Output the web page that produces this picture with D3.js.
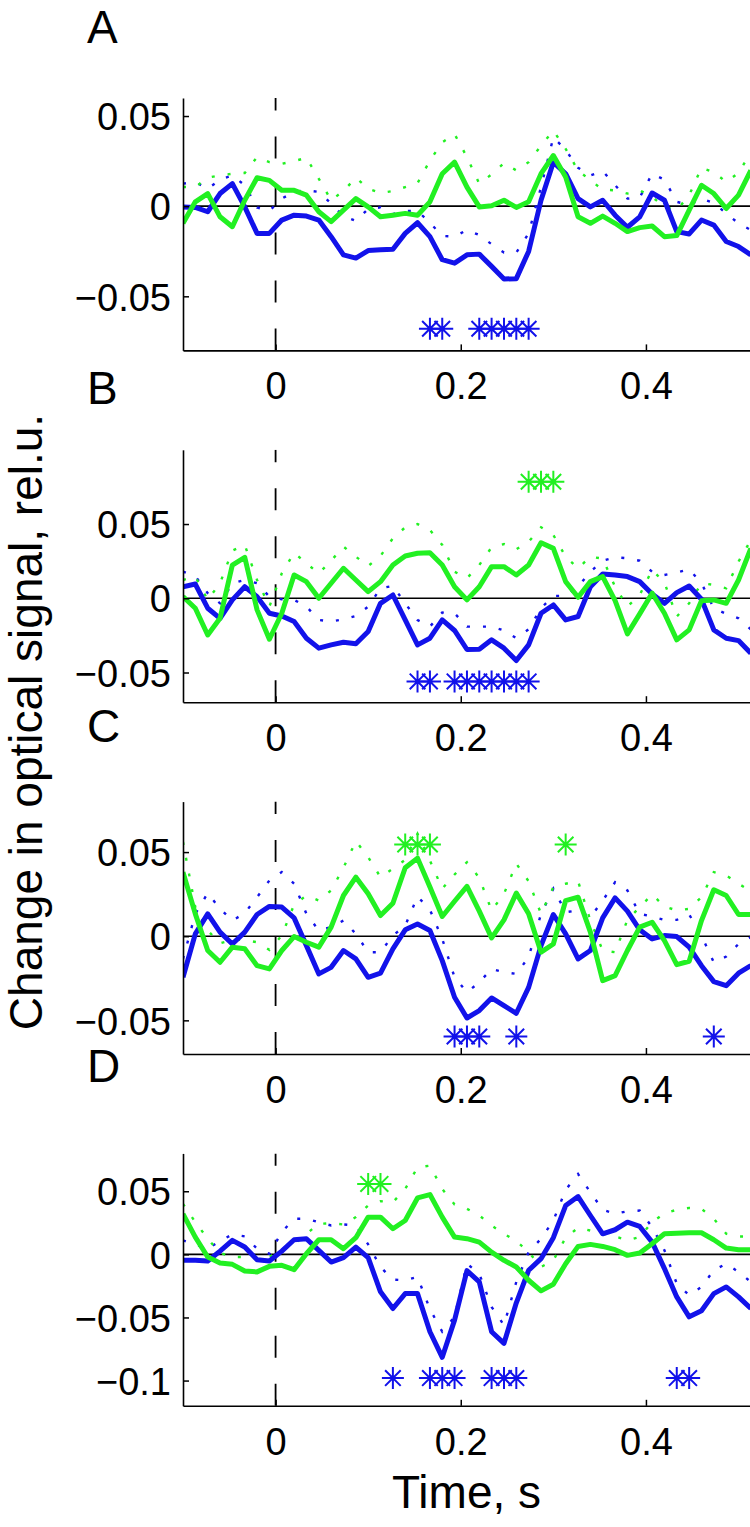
<!DOCTYPE html>
<html><head><meta charset="utf-8">
<script src="https://cdn.jsdelivr.net/npm/d3@7"></script>
<style>
body{margin:0;background:#fff}
svg{display:block}
text{font-family:"Liberation Sans",Arial,Helvetica,sans-serif;fill:#000}
</style>
</head><body>
<svg id="chart" width="750" height="1527"></svg>
<script>
// ---- data ----
const time = [-0.1,-0.0867,-0.0733,-0.06,-0.0467,-0.0333,-0.02,-0.0067,0.0067,0.02,0.0333,0.0467,0.06,0.0733,0.0867,0.1,0.1133,0.1267,0.14,0.1533,0.1667,0.18,0.1933,0.2067,0.22,0.2333,0.2467,0.26,0.2733,0.2867,0.3,0.3133,0.3267,0.34,0.3533,0.3667,0.38,0.3933,0.4067,0.42,0.4333,0.4467,0.46,0.4733,0.4867,0.5,0.5133];
const xTicks = [0, 0.2, 0.4];
const xTickLabels = ["0", "0.2", "0.4"];
const panelLetters = ["A", "B", "C", "D"];

const yDomainA = [-0.08, 0.06], yDomainB = [-0.07, 0.1], yDomainC = [-0.07, 0.08], yDomainD = [-0.12, 0.08];
const yTicksA = [-0.05, 0, 0.05], yTicksB = [-0.05, 0, 0.05], yTicksC = [-0.05, 0, 0.05], yTicksD = [-0.1, -0.05, 0, 0.05];

const blueMeanA = [-0.0004,-0.0007,-0.0031,0.0070,0.0125,-0.0004,-0.0151,-0.0151,-0.0077,-0.0050,-0.0055,-0.0077,-0.0169,-0.0270,-0.0288,-0.0246,-0.0242,-0.0239,-0.0151,-0.0092,-0.0169,-0.0297,-0.0316,-0.0270,-0.0266,-0.0334,-0.0404,-0.0402,-0.0251,0.0033,0.0244,0.0180,0.0042,-0.0004,0.0033,-0.0050,-0.0117,-0.0059,0.0073,0.0033,-0.0141,-0.0154,-0.0077,-0.0105,-0.0196,-0.0224,-0.0270];
const blueUpperA = [0.0125,0.0134,0.0097,0.0147,0.0171,0.0116,-0.0007,-0.0026,0.0042,0.0079,0.0088,0.0079,0.0015,-0.0055,-0.0081,-0.0015,-0.0007,-0.0044,-0.0026,-0.0026,-0.0092,-0.0165,-0.0169,-0.0132,-0.0160,-0.0211,-0.0257,-0.0257,-0.0151,0.0106,0.0382,0.0312,0.0213,0.0171,0.0195,0.0116,0.0042,0.0048,0.0180,0.0147,0.0024,0.0006,0.0042,0.0018,-0.0040,-0.0095,-0.0132];
const greenMeanA = [-0.0095,0.0024,0.0070,-0.0059,-0.0114,0.0033,0.0158,0.0143,0.0088,0.0088,0.0061,-0.0031,-0.0086,-0.0022,0.0042,-0.0004,-0.0059,-0.0050,-0.0040,-0.0050,0.0024,0.0180,0.0244,0.0106,-0.0004,0.0002,0.0033,-0.0007,0.0024,0.0180,0.0281,0.0162,-0.0059,-0.0095,-0.0055,-0.0095,-0.0141,-0.0119,-0.0110,-0.0169,-0.0163,-0.0022,0.0116,0.0070,-0.0013,0.0061,0.0198];
const greenUpperA = [0.0106,0.0106,0.0158,0.0171,0.0180,0.0184,0.0272,0.0244,0.0235,0.0250,0.0268,0.0152,0.0033,0.0084,0.0158,0.0097,0.0073,0.0084,0.0106,0.0128,0.0253,0.0354,0.0400,0.0272,0.0125,0.0176,0.0239,0.0198,0.0244,0.0336,0.0419,0.0318,0.0198,0.0143,0.0092,0.0088,0.0070,0.0088,0.0051,-0.0004,-0.0022,0.0061,0.0213,0.0189,0.0134,0.0184,0.0299];

const blueMeanB = [0.0078,0.0096,-0.0067,-0.0135,-0.0011,0.0078,0.0011,-0.0101,-0.0119,-0.0157,-0.0269,-0.0336,-0.0314,-0.0296,-0.0307,-0.0224,-0.0034,0.0022,-0.0146,-0.0314,-0.0269,-0.0146,-0.0217,-0.0345,-0.0343,-0.0280,-0.0336,-0.0419,-0.0314,-0.0101,-0.0045,-0.0146,-0.0123,0.0078,0.0164,0.0157,0.0146,0.0112,0.0029,-0.0034,0.0038,0.0083,-0.0007,-0.0213,-0.0269,-0.0285,-0.0370];
const blueUpperB = [0.0179,0.0150,0.0034,-0.0034,0.0101,0.0123,0.0101,0.0011,-0.0007,-0.0011,-0.0056,-0.0146,-0.0157,-0.0141,-0.0119,-0.0056,0.0067,0.0083,-0.0034,-0.0146,-0.0191,-0.0096,-0.0101,-0.0191,-0.0191,-0.0191,-0.0217,-0.0269,-0.0209,-0.0067,0.0016,0.0016,0.0078,0.0179,0.0253,0.0276,0.0269,0.0253,0.0179,0.0157,0.0173,0.0195,0.0101,-0.0067,-0.0105,-0.0135,-0.0209];
const greenMeanB = [0.0011,-0.0067,-0.0247,-0.0135,0.0224,0.0276,-0.0078,-0.0276,-0.0101,0.0157,0.0112,0,0.0101,0.0202,0.0123,0.0045,0.0112,0.0224,0.0285,0.0303,0.0307,0.0224,0.0078,-0.0011,0.0078,0.0213,0.0213,0.0157,0.0224,0.0374,0.0336,0.0112,0.0007,0.0112,0.0146,-0.0016,-0.0240,-0.0105,0.0034,-0.0101,-0.0280,-0.0213,-0.0016,-0.0011,-0.0034,0.0123,0.0336];
const greenUpperB = [0.0123,0.0146,-0.0011,0.0101,0.0321,0.0359,0.0123,-0.0056,0.0168,0.0307,0.0235,0.0168,0.0253,0.0348,0.0280,0.0217,0.0285,0.0404,0.0478,0.0500,0.0460,0.0359,0.0179,0.0135,0.0224,0.0343,0.0365,0.0330,0.0381,0.0478,0.0426,0.0280,0.0202,0.0280,0.0267,0.0078,-0.0056,0.0022,0.0191,0.0105,-0.0123,-0.0034,0.0101,0.0090,0.0067,0.0247,0.0392];

const blueMeanC = [-0.0244,0.0014,0.0133,0.0024,-0.0046,0.0024,0.0129,0.0177,0.0173,0.0109,-0.0056,-0.0224,-0.0185,-0.0085,-0.0135,-0.0244,-0.0220,-0.0075,0.0038,0.0073,0.0034,-0.0145,-0.0363,-0.0486,-0.0442,-0.0367,-0.0413,-0.0458,-0.0304,-0.0056,0.0129,0.0014,-0.0135,-0.0085,0.0109,0.0228,0.0149,0.0038,-0.0016,0.0004,-0.0002,-0.0065,-0.0175,-0.0270,-0.0294,-0.0220,-0.0175];
const blueUpperC = [-0.0135,0.0133,0.0256,0.0163,0.0093,0.0137,0.0232,0.0331,0.0381,0.0312,0.0133,0.0034,0.0054,0.0093,0.0014,-0.0095,-0.0095,0.0004,0.0063,0.0236,0.0157,-0.0016,-0.0244,-0.0333,-0.0274,-0.0194,-0.0214,-0.0224,-0.0125,0.0133,0.0282,0.0143,0.0153,0.0113,0.0212,0.0321,0.0272,0.0133,0.0117,0.0097,0.0097,0.0129,0.0004,-0.0155,-0.0121,-0.0046,-0.0006];
const greenMeanC = [0.0381,0.0133,-0.0085,-0.0155,-0.0065,-0.0075,-0.0175,-0.0194,-0.0085,-0.0002,-0.0036,-0.0065,0.0054,0.0242,0.0351,0.0252,0.0123,0.0196,0.0407,0.0464,0.0292,0.0117,0.0208,0.0296,0.0149,-0.0010,0.0097,0.0256,0.0133,-0.0095,-0.0046,0.0212,0.0232,0.0024,-0.0264,-0.0234,-0.0085,0.0054,0.0083,-0.0026,-0.0169,-0.0149,0.0093,0.0276,0.0242,0.0129,0.0129];
const greenUpperC = [0.0560,0.0173,0.0034,-0.0042,-0.0022,-0.0022,-0.0036,-0.0081,0.0004,0.0188,0.0242,0.0212,0.0272,0.0407,0.0565,0.0470,0.0351,0.0401,0.0454,0.0609,0.0450,0.0282,0.0367,0.0440,0.0347,0.0153,0.0252,0.0431,0.0327,0.0133,0.0292,0.0312,0.0327,0.0093,-0.0085,-0.0095,0.0097,0.0173,0.0248,0.0177,0.0153,0.0163,0.0232,0.0381,0.0361,0.0312,0.0268];

const blueMeanD = [-0.0047,-0.0047,-0.0053,0.0026,0.0111,0.0058,-0.0042,-0.0053,0.0026,0.0116,0.0124,0.0032,-0.0061,-0.0026,0.0058,-0.0026,-0.0297,-0.0429,-0.0311,-0.0311,-0.0613,-0.0816,-0.0521,-0.0129,-0.0218,-0.0613,-0.0705,-0.0384,-0.0126,-0.0034,0.0132,0.0387,0.0458,0.0308,0.0163,0.0195,0.0255,0.0221,0.0097,-0.0113,-0.0337,-0.0495,-0.0447,-0.0311,-0.0258,-0.0337,-0.0429];
const blueUpperD = [0.0111,0.0079,0.0045,0.0105,0.0158,0.0142,0.0045,0.0005,0.0176,0.0282,0.0282,0.0255,0.0229,0.0237,0.0229,0.0079,-0.0100,-0.0200,-0.0205,-0.0179,-0.0434,-0.0613,-0.0495,-0.0074,-0.0153,-0.0416,-0.0561,-0.0218,0.0018,0.0124,0.0268,0.0511,0.0637,0.0492,0.0353,0.0321,0.0342,0.0347,0.0216,0.0032,-0.0232,-0.0324,-0.0258,-0.0126,-0.0074,-0.0139,-0.0218];
const greenMeanD = [0.0321,0.0137,-0.0021,-0.0068,-0.0079,-0.0132,-0.0139,-0.0095,-0.0087,-0.0121,0.0005,0.0116,0.0116,0.0045,0.0132,0.0295,0.0295,0.0203,0.0268,0.0447,0.0474,0.0295,0.0137,0.0124,0.0097,0.0018,-0.0047,-0.0100,-0.0205,-0.0289,-0.0237,-0.0074,0.0063,0.0079,0.0063,0.0037,-0.0008,0.0011,0.0084,0.0163,0.0168,0.0171,0.0171,0.0116,0.0050,0.0037,0.0037];
const greenUpperD = [0.0400,0.0255,0.0124,0.0011,-0.0021,-0.0021,-0.0026,-0.0021,0.0037,0.0079,0.0163,0.0242,0.0247,0.0237,0.0295,0.0387,0.0421,0.0413,0.0518,0.0689,0.0703,0.0518,0.0395,0.0361,0.0308,0.0229,0.0163,0.0105,0.0018,-0.0100,-0.0047,0.0132,0.0211,0.0189,0.0163,0.0142,0.0111,0.0137,0.0255,0.0326,0.0353,0.0368,0.0361,0.0282,0.0163,0.0142,0.0142];

// significant time points (asterisks) and the level they are drawn at
const blueSigA = [0.1667,0.18,0.22,0.2333,0.2467,0.26,0.2733];
const greenSigA = [];
const blueSigB = [0.1533,0.1667,0.1933,0.2067,0.22,0.2333,0.2467,0.26,0.2733];
const greenSigB = [0.2733,0.2867,0.3];
const blueSigC = [0.1933,0.2067,0.22,0.26,0.4733];
const greenSigC = [0.14,0.1533,0.1667,0.3133];
const blueSigD = [0.1267,0.1667,0.18,0.1933,0.2333,0.2467,0.26,0.4333,0.4467];
const greenSigD = [0.1,0.1133];
const blueSigLevel = [-0.068, -0.056, -0.0596, -0.098];
const greenSigLevel = [0.06, 0.0785, 0.0545, 0.0558];

const yLabel = "Change in optical signal, rel.u.";
const xLabel = "Time, s";

// ---- layout ----
const left = 183, right = 750;
const panelTop = [98, 449.8, 801.6, 1153.4];
const panelH = 252.4;
const letterY = [43, 404, 742, 1082];
const BLUE = "#1212ea", GREEN = "#22f022";

const panels = [
  {letter: panelLetters[0], dom: yDomainA, ticks: yTicksA, bm: blueMeanA, bu: blueUpperA, gm: greenMeanA, gu: greenUpperA, bs: blueSigA, gs: greenSigA},
  {letter: panelLetters[1], dom: yDomainB, ticks: yTicksB, bm: blueMeanB, bu: blueUpperB, gm: greenMeanB, gu: greenUpperB, bs: blueSigB, gs: greenSigB},
  {letter: panelLetters[2], dom: yDomainC, ticks: yTicksC, bm: blueMeanC, bu: blueUpperC, gm: greenMeanC, gu: greenUpperC, bs: blueSigC, gs: greenSigC},
  {letter: panelLetters[3], dom: yDomainD, ticks: yTicksD, bm: blueMeanD, bu: blueUpperD, gm: greenMeanD, gu: greenUpperD, bs: blueSigD, gs: greenSigD}
];

const svg = d3.select("#chart");
const x = d3.scaleLinear().domain([-0.1, 0.5124]).range([left, right]);
const fmt = v => (v < 0 ? "\u2212" : "") + String(Math.abs(v));

panels.forEach((p, i) => {
  const top = panelTop[i], bottom = top + panelH;
  const y = d3.scaleLinear().domain(p.dom).range([bottom, top]);
  const g = svg.append("g");
  const clipId = "clip" + i;
  svg.append("clipPath").attr("id", clipId).append("rect")
    .attr("x", left).attr("y", top).attr("width", right - left).attr("height", panelH);
  const plot = g.append("g").attr("clip-path", `url(#${clipId})`);

  // stimulus onset dashed line (drawn from bottom upward)
  plot.append("line").attr("x1", x(0)).attr("x2", x(0)).attr("y1", bottom).attr("y2", top)
    .attr("stroke", "#000").attr("stroke-width", 1.8).attr("stroke-dasharray", "22,26");
  // zero line
  plot.append("line").attr("x1", left).attr("x2", right).attr("y1", y(0)).attr("y2", y(0))
    .attr("stroke", "#000").attr("stroke-width", 1.6);

  const line = arr => d3.line().x((d, k) => x(time[k])).y(d => y(d))(arr);
  // dotted SEM bounds
  plot.append("path").attr("d", line(p.bu)).attr("fill", "none").attr("stroke", BLUE)
    .attr("stroke-width", 2.4).attr("stroke-dasharray", "3,13");
  plot.append("path").attr("d", line(p.gu)).attr("fill", "none").attr("stroke", GREEN)
    .attr("stroke-width", 2.4).attr("stroke-dasharray", "3,13");
  // means
  plot.append("path").attr("d", line(p.bm)).attr("fill", "none").attr("stroke", BLUE)
    .attr("stroke-width", 5).attr("stroke-linejoin", "round");
  plot.append("path").attr("d", line(p.gm)).attr("fill", "none").attr("stroke", GREEN)
    .attr("stroke-width", 5).attr("stroke-linejoin", "round");

  // asterisks
  const star = (cx, cy) => {
    const r = 11, d = 7.8;
    return `M${cx - r},${cy}H${cx + r}M${cx},${cy - r}V${cy + r}M${cx - d},${cy - d}L${cx + d},${cy + d}M${cx - d},${cy + d}L${cx + d},${cy - d}`;
  };
  p.bs.forEach(t => plot.append("path").attr("d", star(x(t), y(blueSigLevel[i])))
    .attr("stroke", BLUE).attr("stroke-width", 2).attr("fill", "none"));
  p.gs.forEach(t => plot.append("path").attr("d", star(x(t), y(greenSigLevel[i])))
    .attr("stroke", GREEN).attr("stroke-width", 2).attr("fill", "none"));

  // axes (left + bottom, ticks inward)
  const yAxis = d3.axisLeft(y).tickValues(p.ticks).tickSizeInner(-6).tickSizeOuter(0).tickPadding(12).tickFormat(fmt);
  const ga = g.append("g").attr("transform", `translate(${left},0)`).call(yAxis);
  ga.select(".domain").attr("stroke", "#000").attr("stroke-width", 1.6);
  ga.selectAll(".tick line").attr("stroke", "#000").attr("stroke-width", 1.5);
  ga.selectAll(".tick text").attr("font-size", 38).attr("font-family", '"Liberation Sans",Arial,sans-serif')
    .attr("dy", "0.36em").attr("x", -12);

  const xAxis = d3.axisBottom(x).tickValues(xTicks).tickSizeInner(-6).tickSizeOuter(0).tickPadding(10)
    .tickFormat((d, k) => xTickLabels[k]);
  const gx = g.append("g").attr("transform", `translate(0,${bottom})`).call(xAxis);
  gx.select(".domain").attr("stroke", "#000").attr("stroke-width", 1.6);
  gx.selectAll(".tick line").attr("stroke", "#000").attr("stroke-width", 1.5);
  gx.selectAll(".tick text").attr("font-size", 38).attr("font-family", '"Liberation Sans",Arial,sans-serif')
    .attr("dy", null).attr("y", 49);

  // panel letter
  svg.append("text").attr("x", 87).attr("y", letterY[i]).attr("font-size", 46).text(p.letter);
});

svg.append("text").attr("x", (left + right) / 2).attr("y", 1508).attr("text-anchor", "middle")
  .attr("font-size", 46).text(xLabel);
svg.append("text").attr("transform", "translate(42,722) rotate(-90)").attr("text-anchor", "middle")
  .attr("font-size", 46).text(yLabel);
</script>
</body></html>
